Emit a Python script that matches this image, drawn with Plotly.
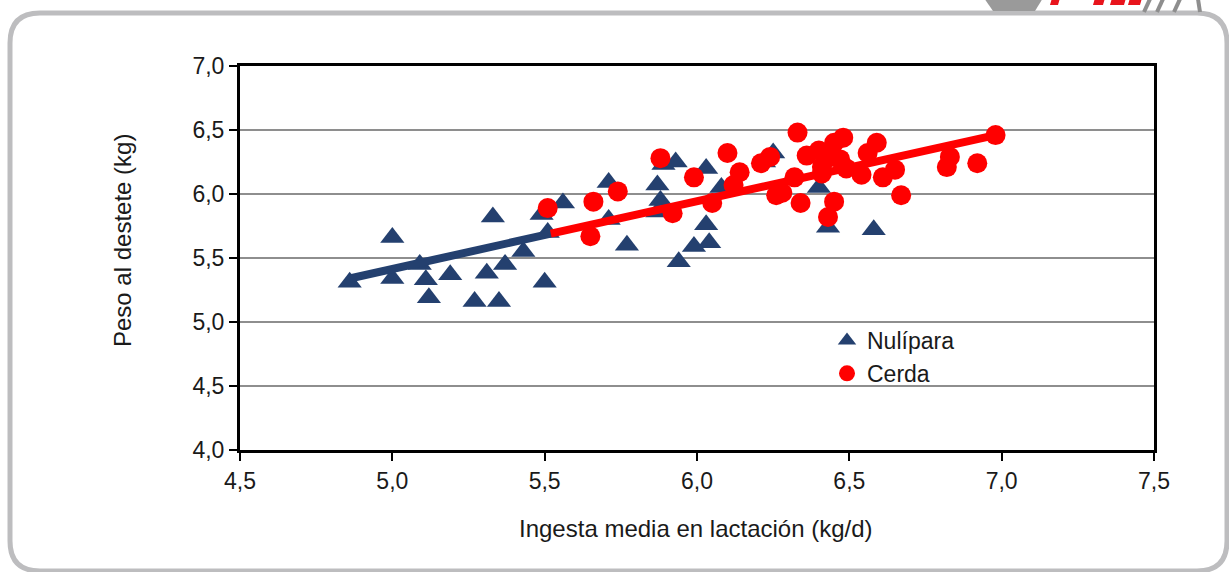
import plotly.graph_objects as go

# ---------------- data ----------------
nul_x = [4.86, 5.00, 5.00, 5.09, 5.11, 5.12, 5.19, 5.27, 5.31, 5.33, 5.35, 5.37,
         5.43, 5.50, 5.49, 5.51, 5.56, 5.71, 5.71, 5.77, 5.87, 5.88, 5.87, 5.89,
         5.93, 6.03, 6.08, 6.03, 6.04, 5.99, 5.94, 6.22, 6.25, 6.40, 6.43, 6.58]
nul_y = [5.31, 5.66, 5.34, 5.45, 5.33, 5.19, 5.37, 5.16, 5.38, 5.82, 5.16, 5.45,
         5.55, 5.31, 5.84, 5.70, 5.93, 6.09, 5.80, 5.60, 6.07, 5.95, 5.86, 6.23,
         6.25, 6.20, 6.05, 5.76, 5.62, 5.59, 5.47, 6.25, 6.32, 6.05, 5.74, 5.72]

cer_x = [5.51, 5.66, 5.74, 5.65, 5.88, 5.99, 5.92, 6.05, 6.10, 6.14, 6.12, 6.24,
         6.21, 6.26, 6.33, 6.36, 6.32, 6.28, 6.34, 6.40, 6.41, 6.45, 6.48, 6.47,
         6.49, 6.45, 6.43, 6.44, 6.41, 6.54, 6.56, 6.59, 6.61, 6.65, 6.67, 6.82,
         6.83, 6.92, 6.98]
cer_y = [5.89, 5.94, 6.02, 5.67, 6.28, 6.13, 5.85, 5.93, 6.32, 6.17, 6.07, 6.29,
         6.24, 5.99, 6.48, 6.30, 6.13, 6.01, 5.93, 6.34, 6.21, 6.40, 6.44, 6.27,
         6.20, 5.94, 5.82, 6.29, 6.16, 6.15, 6.32, 6.40, 6.13, 6.19, 5.99, 6.21,
         6.29, 6.24, 6.46]

trend_nul_x = [4.86, 5.52]
trend_nul_y = [5.34, 5.69]
trend_cer_x = [5.52, 6.98]
trend_cer_y = [5.69, 6.46]

x_ticks = [4.5, 5.0, 5.5, 6.0, 6.5, 7.0, 7.5]
y_ticks = [4.0, 4.5, 5.0, 5.5, 6.0, 6.5, 7.0]

BLUE = "#24406F"
RED = "#FF0000"
FONT = "Liberation Sans, Arial, sans-serif"

W, H = 1229, 572
ML, MR, MT, MB = 240, 75, 66, 122
PW, PH = W - ML - MR, H - MT - MB


def fx(p):
    return (p - ML) / PW


def fy(p):
    return (H - MB - p) / PH


fig = go.Figure()

fig.add_trace(go.Scatter(
    x=nul_x, y=nul_y, mode="markers", name="Nulípara",
    marker=dict(symbol="triangle-up", size=21, color=BLUE, line=dict(width=0)),
))
fig.add_trace(go.Scatter(
    x=trend_nul_x, y=trend_nul_y, mode="lines", showlegend=False,
    line=dict(color=BLUE, width=8), hoverinfo="skip",
))
fig.add_trace(go.Scatter(
    x=trend_cer_x, y=trend_cer_y, mode="lines", showlegend=False,
    line=dict(color=RED, width=8), hoverinfo="skip",
))
fig.add_trace(go.Scatter(
    x=cer_x, y=cer_y, mode="markers", name="Cerda",
    marker=dict(symbol="circle", size=20, color=RED, line=dict(width=0)),
))

axis_common = dict(
    showline=True, linecolor="black", linewidth=3, mirror=True,
    ticks="outside", ticklen=8, tickwidth=1.5, tickcolor="black",
    tickfont=dict(family=FONT, size=23, color="#1a1a1a"),
    tickformat=".1f", zeroline=False,
)

fig.update_xaxes(range=[4.5, 7.5], tickvals=x_ticks, showgrid=False, **axis_common)
fig.update_yaxes(range=[4.0, 7.0], tickvals=y_ticks, showgrid=True,
                 gridcolor="#8E8E8E", gridwidth=2, **axis_common)

shapes = []
# rounded outer frame
x0, x1, y0, y1, r = 10, 1227, 13, 571, 30
path = (f"M {fx(x0 + r)},{fy(y0)} L {fx(x1 - r)},{fy(y0)} "
        f"Q {fx(x1)},{fy(y0)} {fx(x1)},{fy(y0 + r)} L {fx(x1)},{fy(y1 - r)} "
        f"Q {fx(x1)},{fy(y1)} {fx(x1 - r)},{fy(y1)} L {fx(x0 + r)},{fy(y1)} "
        f"Q {fx(x0)},{fy(y1)} {fx(x0)},{fy(y1 - r)} L {fx(x0)},{fy(y0 + r)} "
        f"Q {fx(x0)},{fy(y0)} {fx(x0 + r)},{fy(y0)} Z")
shapes.append(dict(type="path", xref="paper", yref="paper", path=path,
                   line=dict(color="#BDBDBF", width=5), layer="below"))
# partial logo at top right
logo_grey = (f"M {fx(984)},{fy(-2)} L {fx(1043)},{fy(-2)} L {fx(1035)},{fy(11)} "
             f"L {fx(993)},{fy(11)} Z")
shapes.append(dict(type="path", xref="paper", yref="paper", path=logo_grey,
                   fillcolor="#9A9A9A", line=dict(width=0)))
for a, b in [(1050, 1058), (1093, 1103), (1110, 1124), (1128, 1140)]:
    shapes.append(dict(type="path", xref="paper", yref="paper",
                       path=(f"M {fx(a + 2)},{fy(-2)} L {fx(b + 2)},{fy(-2)} "
                             f"L {fx(b)},{fy(5)} L {fx(a)},{fy(5)} Z"),
                       fillcolor="#E8141C", line=dict(width=0)))
for a, b in [(1150, 1144), (1163, 1157), (1180, 1174), (1198, 1200)]:
    shapes.append(dict(type="line", xref="paper", yref="paper",
                       x0=fx(a), y0=fy(-1), x1=fx(b), y1=fy(12),
                       line=dict(color="#8E8E8E", width=4)))

annotations = [
    dict(text="Ingesta media en lactación (kg/d)", xref="paper", yref="paper",
         x=fx(696), y=fy(528), showarrow=False, xanchor="center", yanchor="middle",
         font=dict(family=FONT, size=24, color="#1a1a1a")),
    dict(text="Peso al destete (kg)", xref="paper", yref="paper",
         x=fx(122), y=fy(241), showarrow=False, textangle=-90,
         xanchor="center", yanchor="middle",
         font=dict(family=FONT, size=24, color="#1a1a1a")),
]

fig.update_layout(
    width=W, height=H, autosize=False,
    margin=dict(l=ML, r=MR, t=MT, b=MB, pad=0),
    paper_bgcolor="white", plot_bgcolor="white",
    separators=",.",
    showlegend=True,
    legend=dict(x=fx(827), y=fy(319), xanchor="left", yanchor="top",
                bgcolor="rgba(0,0,0,0)", borderwidth=0, tracegroupgap=0,
                font=dict(family=FONT, size=23, color="#1a1a1a"),
                itemwidth=30),
    shapes=shapes, annotations=annotations,
    hovermode=False,
)

fig.write_html("out.html")
